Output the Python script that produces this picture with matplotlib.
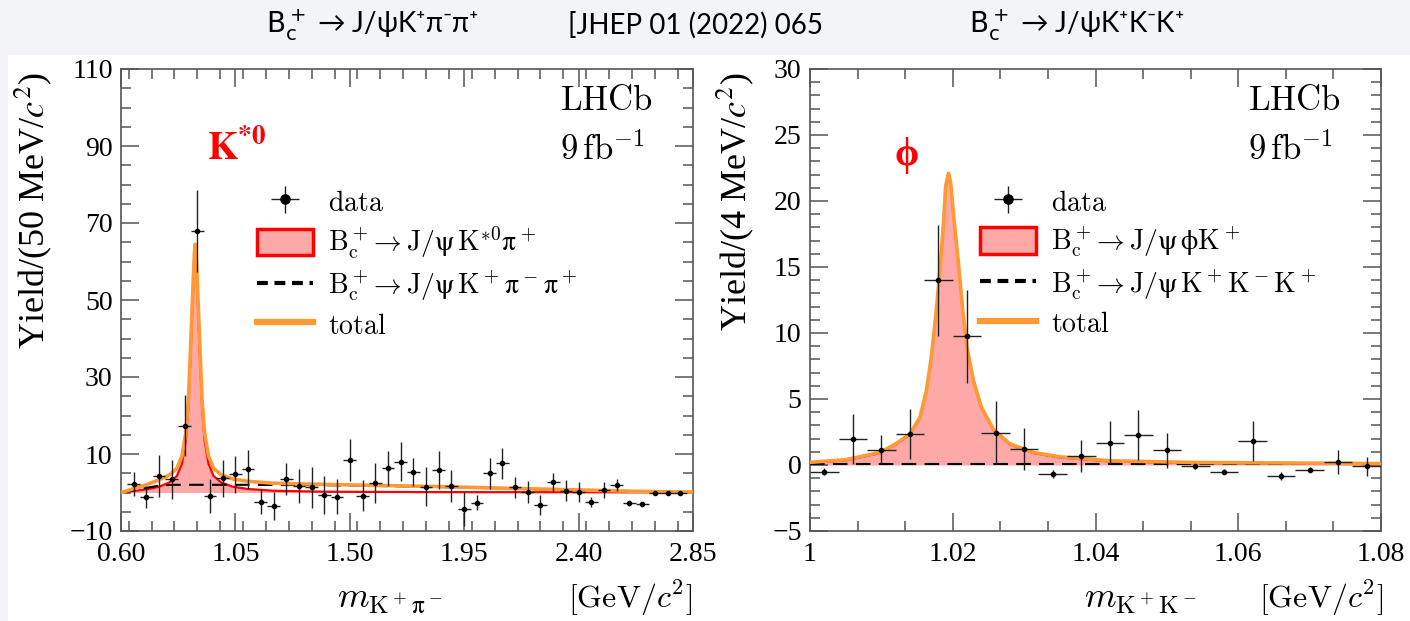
"""
Bc+ -> J/psi K+ pi- pi+ and Bc+ -> J/psi K+ K- K+ : resonance mass projections
"""
import matplotlib.pyplot as plt
from matplotlib.patches import Patch, Rectangle
from matplotlib.lines import Line2D
from matplotlib.ticker import MultipleLocator, FixedLocator

plt.rcParams['font.family'] = ['Liberation Serif', 'DejaVu Serif']
plt.rcParams['mathtext.fontset'] = 'stix'

# ---- left panel: m(K+ pi-) in 50 MeV bins ----
mkpi = [0.65, 0.70, 0.75, 0.80, 0.85, 0.90, 0.95, 1.00, 1.05, 1.10, 1.15,
        1.20, 1.25, 1.30, 1.35, 1.40, 1.45, 1.50, 1.55, 1.60, 1.65, 1.70,
        1.75, 1.80, 1.85, 1.90, 1.95, 2.00, 2.05, 2.10, 2.15, 2.20, 2.25,
        2.30, 2.35, 2.40, 2.45, 2.50, 2.55, 2.60, 2.65, 2.70, 2.75, 2.80]
ykpi = [2.2, -1.1, 4.3, 3.4, 17.4, 67.9, -0.8, 3.7, 4.8, 6.0, -2.4,
        -3.5, 3.5, 1.7, 1.3, -0.6, -1.1, 8.4, -0.8, 2.4, 6.3, 8.0,
        5.4, 1.5, 5.8, 1.7, -4.3, -2.6, 5.0, 7.6, 1.3, 0.2, -3.2,
        2.6, 0.5, 0.2, -2.4, 0.6, 1.9, -2.8, -3.1, 0.0, 0.0, -0.2]
ekpi = [3.0, 2.8, 5.4, 5.0, 8.0, 10.7, 4.4, 4.8, 4.8, 5.0, 3.2,
        3.7, 4.1, 4.3, 5.2, 5.0, 4.5, 5.4, 4.0, 5.2, 4.5, 5.0,
        3.6, 5.0, 5.0, 4.1, 4.5, 2.0, 4.0, 4.0, 2.8, 2.8, 2.6,
        2.4, 2.8, 2.6, 1.3, 2.0, 1.5, 0.6, 0.5, 0.3, 0.3, 0.3]

# fit components
m_fit_l = [0.60, 0.65, 0.70, 0.75, 0.79, 0.82, 0.84, 0.855, 0.865, 0.872,
           0.878, 0.884, 0.889, 0.892, 0.895, 0.900, 0.906, 0.912, 0.919,
           0.929, 0.944, 0.964, 0.994, 1.04, 1.10, 1.20, 1.40, 1.80, 2.20,
           2.60, 2.85]
sig_l = [0.0, 0.4, 0.8, 1.5, 2.6, 4.3, 7.5, 13.5, 22.0, 33.0,
         43.0, 53.0, 60.5, 62.5, 60.5, 53.0, 43.0, 33.0, 22.0,
         13.5, 7.5, 4.3, 2.6, 1.5, 0.9, 0.45, 0.2, 0.1, 0.08,
         0.05, 0.05]
bg_l = [0.0, 0.6, 1.2, 1.8, 1.95, 2.0, 2.0, 2.0, 2.0, 2.0,
        2.0, 2.0, 2.0, 2.0, 2.0, 2.0, 2.0, 2.0, 2.0,
        2.0, 2.0, 2.0, 2.0, 2.0, 2.0, 1.95, 1.9, 1.5, 0.9,
        0.3, 0.05]

# ---- right panel: m(K+ K-) in 4 MeV bins ----
mkk = [1.002, 1.006, 1.010, 1.014, 1.018, 1.022, 1.026, 1.030, 1.034, 1.038,
       1.042, 1.046, 1.050, 1.054, 1.058, 1.062, 1.066, 1.070, 1.074, 1.078]
ykk = [-0.5, 2.0, 1.15, 2.35, 14.0, 9.75, 2.45, 1.2, -0.7, 0.7,
       1.7, 2.3, 1.1, -0.1, -0.5, 1.8, -0.8, -0.35, 0.25, -0.1]
ekk = [0.25, 1.9, 1.1, 1.9, 4.2, 3.5, 2.4, 1.6, 0.3, 1.2,
       1.65, 1.9, 1.3, 0.2, 0.2, 1.5, 0.3, 0.2, 0.9, 0.7]

m_fit_r = [1.000, 1.005, 1.0098, 1.0121, 1.014, 1.0154, 1.0163, 1.017, 1.0176,
           1.0182, 1.0187, 1.019, 1.0194, 1.0197, 1.0201, 1.0208, 1.0214, 1.022,
           1.0229, 1.024, 1.0257, 1.028, 1.0313, 1.035, 1.042, 1.054, 1.080]
sig_r = [0.15, 0.35, 0.9, 1.58, 2.3, 3.55, 5.55, 8.15, 11.15,
         14.65, 18.25, 21.05, 22.05, 21.35, 18.95, 15.2, 11.65, 8.85,
         6.35, 4.35, 2.65, 1.55, 0.9, 0.57, 0.27, 0.14, 0.06]
bg_level_r = 0.05

ORANGE = '#ff9933'
FILL = '#ffa8a8'

W, H = 1410, 621
fig = plt.figure(figsize=(W / 100, H / 100), dpi=100)
fig.patch.set_facecolor('#f2f4f7')
fig.add_artist(Rectangle((8 / W, 0), 1, 1 - 55 / H, transform=fig.transFigure,
                         facecolor='white', edgecolor='none', zorder=-10))

ax1 = fig.add_axes([121 / W, 1 - 531 / H, (693 - 121) / W, (531 - 69) / H])
ax2 = fig.add_axes([810 / W, 1 - 531 / H, (1381 - 810) / W, (531 - 69) / H])


def root_style(ax):
    for s in ax.spines.values():
        s.set_color('#555555')
        s.set_linewidth(1.2)
    ax.tick_params(which='both', direction='in', top=True, right=True,
                   colors='#555555', labelcolor='black', labelsize=20, width=1.1)
    ax.tick_params(which='major', length=13)
    ax.tick_params(which='minor', length=7)
    ax.tick_params(axis='x', pad=8)
    ax.tick_params(axis='y', pad=6)


def draw_panel(ax, mx, sig, bg, tot, xd, yd, ed, xerr):
    ax.fill_between(mx, 0, sig, color=FILL, lw=0, zorder=1)
    ax.plot(mx, sig, color='red', lw=1.6, zorder=2)
    ax.plot(mx, bg, color='black', lw=1.5, ls=(0, (7, 4)), zorder=3)
    ax.plot(mx, tot, color=ORANGE, lw=2.6, zorder=4)
    h = ax.errorbar(xd, yd, yerr=ed, xerr=xerr, fmt='o', ms=3, color='black',
                    ecolor='#222222', elinewidth=1.0, capsize=0, zorder=5)
    return h


# left
tot_l = [s + b for s, b in zip(sig_l, bg_l)]
h1 = draw_panel(ax1, m_fit_l, sig_l, bg_l, tot_l, mkpi, ykpi, ekpi, 0.025)
root_style(ax1)
ax1.set_xlim(0.60, 2.85)
ax1.set_ylim(-10, 110)
ax1.xaxis.set_major_locator(FixedLocator([0.60, 1.05, 1.50, 1.95, 2.40, 2.85]))
ax1.xaxis.set_minor_locator(MultipleLocator(0.09))
ax1.set_xticklabels(['0.60', '1.05', '1.50', '1.95', '2.40', '2.85'])
ax1.yaxis.set_major_locator(FixedLocator([-10, 10, 30, 50, 70, 90, 110]))
ax1.yaxis.set_minor_locator(MultipleLocator(5))

# right
tot_r = [s + bg_level_r for s in sig_r]
bg_r = [bg_level_r for s in sig_r]
h2 = draw_panel(ax2, m_fit_r, sig_r, bg_r, tot_r, mkk, ykk, ekk, 0.002)
root_style(ax2)
ax2.set_xlim(1.0, 1.08)
ax2.set_ylim(-5, 30)
ax2.xaxis.set_major_locator(FixedLocator([1.0, 1.02, 1.04, 1.06, 1.08]))
ax2.xaxis.set_minor_locator(MultipleLocator(0.02 / 3))
ax2.set_xticklabels(['1', '1.02', '1.04', '1.06', '1.08'])
ax2.yaxis.set_major_locator(MultipleLocator(5))
ax2.yaxis.set_minor_locator(MultipleLocator(1))

# legends (LaTeX-like font)
labels_l = [r'$\mathrm{data}$', r'$\mathrm{B_c^+\!\rightarrow J/ψ\,K^{*0}π^+}$',
            r'$\mathrm{B_c^+\!\rightarrow J/ψ\,K^+π^-π^+}$', r'$\mathrm{total}$']
labels_r = [r'$\mathrm{data}$', r'$\mathrm{B_c^+\!\rightarrow J/ψ\,ϕK^+}$',
            r'$\mathrm{B_c^+\!\rightarrow J/ψ\,K^+K^-K^+}$', r'$\mathrm{total}$']
for ax, h, labels, x0 in [(ax1, h1, labels_l, 257), (ax2, h2, labels_r, 980)]:
    handles = [h,
               Patch(facecolor=FILL, edgecolor='red', lw=2.5),
               Line2D([], [], color='black', lw=3, ls=(0, (2.6, 1.6))),
               Line2D([], [], color=ORANGE, lw=4.5)]
    leg = ax.legend(handles, labels, loc='upper left',
                    bbox_to_anchor=(x0 / W, 1 - 188 / H), bbox_transform=fig.transFigure,
                    frameon=False, fontsize=20, handlelength=2.0, handleheight=1.1,
                    handletextpad=0.55, labelspacing=0.28, borderpad=0, borderaxespad=0,
                    markerscale=2.2)
    for t in leg.get_texts():
        t.set_math_fontfamily('cm')

# axis titles
fig.text(33 / W, 1 - 72 / H, r'Yield/(50 MeV/$c^2$)', rotation=90,
         ha='center', va='top', fontsize=26)
fig.text(735 / W, 1 - 72 / H, r'Yield/(4 MeV/$c^2$)', rotation=90,
         ha='center', va='top', fontsize=26)
fig.text(390 / W, 1 - 600 / H, r'$m_{\mathrm{K^+π^-}}$', ha='center', va='center',
         fontsize=26, math_fontfamily='cm')
fig.text(692 / W, 1 - 598 / H, r'$[\mathrm{GeV}/c^2]$', ha='right', va='center',
         fontsize=23, math_fontfamily='cm')
fig.text(1140 / W, 1 - 600 / H, r'$m_{\mathrm{K^+K^-}}$', ha='center', va='center',
         fontsize=26, math_fontfamily='cm')
fig.text(1383 / W, 1 - 598 / H, r'$[\mathrm{GeV}/c^2]$', ha='right', va='center',
         fontsize=23, math_fontfamily='cm')

# LHCb labels
for xl in (560, 1248):
    fig.text(xl / W, 1 - 101 / H, r'$\mathrm{LHCb}$', ha='left', va='center',
             fontsize=25, math_fontfamily='cm')
    fig.text(xl / W, 1 - 150 / H, r'$\mathrm{9\,fb^{-1}}$', ha='left', va='center',
             fontsize=25, math_fontfamily='cm')

# resonance tags
fig.text(207 / W, 1 - 150 / H, r'$\mathbf{K^{*0}}$', color='red', ha='left',
         va='center', fontsize=28)
fig.text(907 / W, 1 - 155 / H, 'ϕ', color='red', ha='center', va='center',
         fontsize=28, fontweight='bold')

# slide header
head = ['Lato', 'DejaVu Sans']
fig.text(372 / W, 1 - 25 / H, r'$\mathrm{B_c^+}$ → J/ψK⁺π⁻π⁺', ha='center',
         va='center', fontsize=20, family=head, math_fontfamily='dejavusans')
fig.text(695 / W, 1 - 25 / H, '[JHEP 01 (2022) 065', ha='center',
         va='center', fontsize=20, family=head)
fig.text(1077 / W, 1 - 25 / H, r'$\mathrm{B_c^+}$ → J/ψK⁺K⁻K⁺', ha='center',
         va='center', fontsize=20, family=head, math_fontfamily='dejavusans')

fig.savefig('out.png', dpi=100, facecolor=fig.get_facecolor())
